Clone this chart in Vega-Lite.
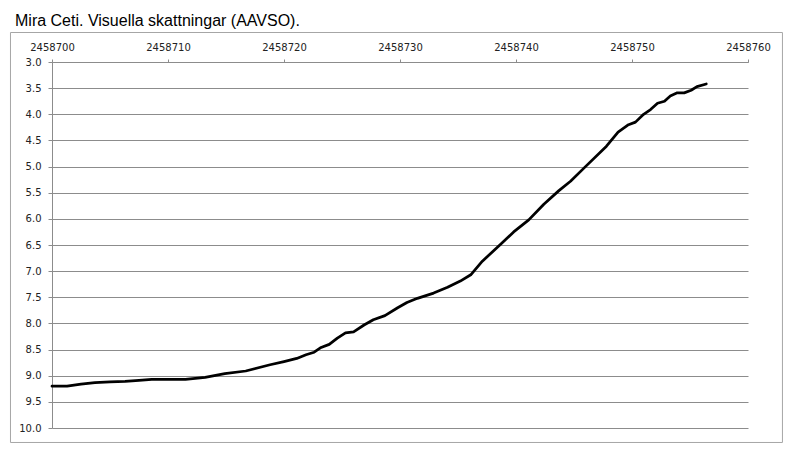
{
  "$schema": "https://vega.github.io/schema/vega-lite/v6.json",
  "autosize": {"type": "none"},
  "padding": {"left": 52, "top": 62, "right": 51, "bottom": 38},
  "width": 696,
  "height": 366,
  "background": "white",
  "title": {
    "text": "Mira Ceti. Visuella skattningar (AAVSO).",
    "anchor": "start",
    "frame": "group",
    "font": "Liberation Sans",
    "fontSize": 16,
    "fontWeight": "normal",
    "color": "#000000",
    "dx": -37,
    "offset": 3
  },
  "config": {
    "view": {"stroke": null},
    "axis": {
      "labelFont": "DejaVu Sans",
      "labelFontSize": 10,
      "labelColor": "#222222",
      "domainColor": "#8c8c8c",
      "tickColor": "#8c8c8c",
      "gridColor": "#8c8c8c",
      "gridOpacity": 1,
      "domainWidth": 1,
      "tickWidth": 1,
      "gridWidth": 1,
      "title": null
    }
  },
  "data": {
    "values": [
      {"jd": 2458700.0, "mag": 9.20},
      {"jd": 2458701.3, "mag": 9.20},
      {"jd": 2458702.5, "mag": 9.16},
      {"jd": 2458703.7, "mag": 9.13},
      {"jd": 2458705.0, "mag": 9.12},
      {"jd": 2458706.3, "mag": 9.11},
      {"jd": 2458707.5, "mag": 9.09},
      {"jd": 2458708.6, "mag": 9.07},
      {"jd": 2458710.0, "mag": 9.07},
      {"jd": 2458711.5, "mag": 9.07},
      {"jd": 2458713.2, "mag": 9.03},
      {"jd": 2458714.9, "mag": 8.96},
      {"jd": 2458716.7, "mag": 8.91},
      {"jd": 2458718.8, "mag": 8.79},
      {"jd": 2458720.0, "mag": 8.73},
      {"jd": 2458721.1, "mag": 8.67},
      {"jd": 2458721.9, "mag": 8.60},
      {"jd": 2458722.6, "mag": 8.55},
      {"jd": 2458723.2, "mag": 8.46},
      {"jd": 2458723.9, "mag": 8.40},
      {"jd": 2458724.6, "mag": 8.28},
      {"jd": 2458725.3, "mag": 8.18},
      {"jd": 2458726.0, "mag": 8.16},
      {"jd": 2458726.9, "mag": 8.03},
      {"jd": 2458727.7, "mag": 7.93},
      {"jd": 2458728.7, "mag": 7.85},
      {"jd": 2458729.8, "mag": 7.70},
      {"jd": 2458730.6, "mag": 7.60},
      {"jd": 2458731.5, "mag": 7.52},
      {"jd": 2458732.9, "mag": 7.42},
      {"jd": 2458734.1, "mag": 7.31},
      {"jd": 2458735.2, "mag": 7.19},
      {"jd": 2458736.1, "mag": 7.07},
      {"jd": 2458737.1, "mag": 6.81},
      {"jd": 2458738.7, "mag": 6.48},
      {"jd": 2458739.8, "mag": 6.25},
      {"jd": 2458741.1, "mag": 6.02},
      {"jd": 2458742.4, "mag": 5.72},
      {"jd": 2458743.7, "mag": 5.46},
      {"jd": 2458744.7, "mag": 5.28},
      {"jd": 2458745.9, "mag": 5.02},
      {"jd": 2458747.8, "mag": 4.61},
      {"jd": 2458748.8, "mag": 4.34},
      {"jd": 2458749.7, "mag": 4.20},
      {"jd": 2458750.3, "mag": 4.15},
      {"jd": 2458751.0, "mag": 4.00},
      {"jd": 2458751.6, "mag": 3.91},
      {"jd": 2458752.2, "mag": 3.79},
      {"jd": 2458752.8, "mag": 3.75},
      {"jd": 2458753.3, "mag": 3.65},
      {"jd": 2458753.9, "mag": 3.59},
      {"jd": 2458754.5, "mag": 3.59},
      {"jd": 2458755.1, "mag": 3.54},
      {"jd": 2458755.6, "mag": 3.47},
      {"jd": 2458756.4, "mag": 3.42}
    ]
  },
  "layer": [
    {
      "mark": {"type": "line", "color": "#000000", "strokeWidth": 2.75, "interpolate": "linear", "strokeJoin": "round", "strokeCap": "round"},
      "encoding": {
        "x": {
          "field": "jd",
          "type": "quantitative",
          "scale": {"domain": [2458700, 2458760], "zero": false, "nice": false},
          "axis": {
            "orient": "top",
            "values": [2458700, 2458710, 2458720, 2458730, 2458740, 2458750, 2458760],
            "format": "d",
            "grid": false,
            "tickSize": 3,
            "labelPadding": 7,
            "labelFlush": false,
            "labelOverlap": false
          }
        },
        "y": {
          "field": "mag",
          "type": "quantitative",
          "scale": {"domain": [3, 10], "reverse": true, "zero": false, "nice": false},
          "axis": {
            "orient": "left",
            "values": [3, 3.5, 4, 4.5, 5, 5.5, 6, 6.5, 7, 7.5, 8, 8.5, 9, 9.5, 10],
            "format": ".1f",
            "grid": true,
            "tickSize": 4,
            "labelPadding": 7,
            "labelFlush": false,
            "labelOverlap": false
          }
        }
      }
    },
    {
      "mark": {"type": "rect", "fill": null, "stroke": "#a6a6a6", "strokeWidth": 1, "clip": false},
      "data": {"values": [{}]},
      "encoding": {
        "x": {
          "datum": 2458696.42,
          "type": "quantitative",
          "scale": {"domain": [2458700, 2458760], "zero": false, "nice": false},
          "axis": {
            "orient": "top",
            "values": [2458700, 2458710, 2458720, 2458730, 2458740, 2458750, 2458760],
            "format": "d",
            "grid": false,
            "tickSize": 3,
            "labelPadding": 7,
            "labelFlush": false,
            "labelOverlap": false
          }
        },
        "x2": {"datum": 2458762.97},
        "y": {
          "datum": 2.436,
          "type": "quantitative",
          "scale": {"domain": [3, 10], "reverse": true, "zero": false, "nice": false},
          "axis": {
            "orient": "left",
            "values": [3, 3.5, 4, 4.5, 5, 5.5, 6, 6.5, 7, 7.5, 8, 8.5, 9, 9.5, 10],
            "format": ".1f",
            "grid": true,
            "tickSize": 4,
            "labelPadding": 7,
            "labelFlush": false,
            "labelOverlap": false
          }
        },
        "y2": {"datum": 10.277}
      }
    }
  ]
}
